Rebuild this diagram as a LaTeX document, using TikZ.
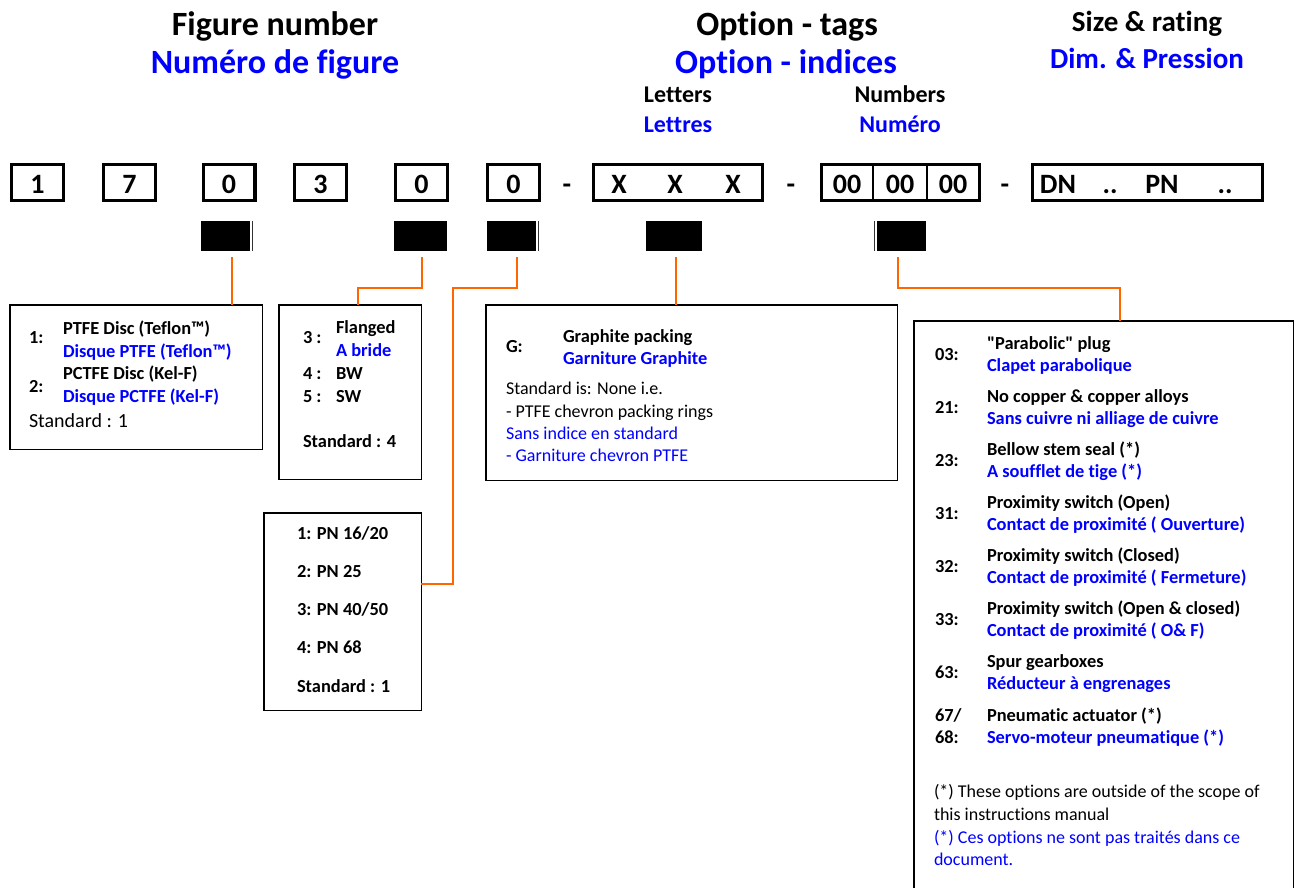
\documentclass[tikz,border=0pt]{standalone}
\usepackage{fontspec}
\setmainfont{Carlito}[Ligatures={TeX,NoCommon}]
\newfontfamily\qfont{Carlito}[Ligatures=NoCommon]
\usetikzlibrary{calc}
\definecolor{frblue}{RGB}{0,0,255}
\definecolor{conorange}{RGB}{255,102,0}
\newcommand\myfs[1]{\fontsize{#1}{#1}\selectfont}
\begin{document}
\begin{tikzpicture}[x=1pt,y=-1pt,
  every node/.style={inner sep=0pt,outer sep=0pt},
  digitbox/.style={draw,line width=3.3pt,minimum height=35.7pt},
  digit/.style={anchor=base,font=\myfs{28}\bfseries},
  blk/.style={fill=black,minimum height=30pt},
  thinbar/.style={line width=1pt,draw=black!80},
  infobox/.style={draw,line width=1.5pt},
  conn/.style={draw=conorange,line width=2pt},
  hd/.style={anchor=base,font=\myfs{34}\bfseries},
  hdb/.style={hd,text=frblue},
  hs/.style={anchor=base,font=\myfs{29}\bfseries},
  hsb/.style={hs,text=frblue},
  sub/.style={anchor=base,font=\myfs{24}\bfseries},
  subb/.style={sub,text=frblue},
  tk/.style={anchor=base west,font=\myfs{18.4}\bfseries},
  tkb/.style={tk,text=frblue},
  rg/.style={anchor=base west,font=\myfs{18}},
  rgb/.style={rg,text=frblue},
  rgl/.style={anchor=base west,font=\myfs{20}}
]
\useasboundingbox (0,0) rectangle (1300,887);
\clip (0,0) rectangle (1300,887);

% headers
\node[hd]  (h1) at (275,35) {Figure number};
\node[hdb] (h2) at (275,73) {Numéro de figure};
\node[hd]  (h3) at (787,35) {Option - tags};
\node[hdb] (h4) at (786,73) {Option - indices};
\node[hs]  (h5) at (1147,31) {Size \& rating};
\node[hsb] (h6) at (1147,68) {Dim. \& Pression};
\node[sub]  (h7) at (678,102) {Letters};
\node[subb] (h8) at (678,132) {Lettres};
\node[sub]  (h9) at (900,102) {Numbers};
\node[subb] (h10) at (900,132) {Numéro};

% top row boxes
\node[digitbox,minimum width=51.7pt] (bx1) at (37.5,182.5) {};
\node[digitbox,minimum width=51.7pt] (bx2) at (129.5,182.5) {};
\node[digitbox,minimum width=51.7pt] (bx3) at (229,182.5) {};
\node[digitbox,minimum width=51.7pt] (bx4) at (320.5,182.5) {};
\node[digitbox,minimum width=51.7pt] (bx5) at (421.5,182.5) {};
\node[digitbox,minimum width=51.7pt] (bx6) at (513.5,182.5) {};
\node[digitbox,minimum width=168.7pt] (bxX) at (678,182.5) {};
\node[digitbox,minimum width=157.7pt] (bx0) at (900.5,182.5) {};
\node[digitbox,minimum width=229.7pt] (bxD) at (1147.5,182.5) {};

\node[digit] (d1) at (37.5,193) {1};
\node[digit] (d2) at (129.5,193) {7};
\node[digit] (d3) at (229,193) {0};
\node[digit] (d4) at (320.5,193) {3};
\node[digit] (d5) at (421.5,193) {0};
\node[digit] (d6) at (513.5,193) {0};
\node[digit] (m1) at (567,193) {-};
\node[digit] (x1) at (619,193) {X};
\node[digit] (x2) at (675,193) {X};
\node[digit] (x3) at (733,193) {X};
\node[digit] (m2) at (791,193) {-};
\node[digit] (z1) at (847,193) {00};
\node[digit] (z2) at (900,193) {00};
\node[digit] (z3) at (953,193) {00};
\node[digit] (m3) at (1005,193) {-};
\node[digit] (p1) at (1058,193) {DN};
\node[digit] (p2) at (1110,193) {..};
\node[digit] (p3) at (1162,193) {PN};
\node[digit] (p4) at (1225,193) {..};

\coordinate (v1) at (873,0);
\coordinate (v2) at (927,0);
\draw[line width=1.5pt] (bx0.north -| v1) -- (bx0.south -| v1);
\draw[line width=1.5pt] (bx0.north -| v2) -- (bx0.south -| v2);

% black markers
\node[blk,minimum width=49pt] (sq1) at (225.5,236) {};
\node[blk,minimum width=53pt] (sq2) at (420.5,236) {};
\node[blk,minimum width=49pt] (sq3) at (511.5,236) {};
\node[blk,minimum width=56pt] (sqX) at (674,236) {};
\node[blk,minimum width=49pt] (sq0) at (901.5,236) {};
\draw[thinbar] ([xshift=2.5pt]sq1.north east) -- ([xshift=2.5pt]sq1.south east);
\draw[thinbar] ([xshift=2pt]sq3.north east) -- ([xshift=2pt]sq3.south east);
\draw[thinbar] ([xshift=-2.5pt]sq0.north west) -- ([xshift=-2.5pt]sq0.south west);

% info boxes
\node[infobox,minimum width=252.5pt,minimum height=144.5pt] (bA) at (136,377) {};
\node[infobox,minimum width=142.5pt,minimum height=174.5pt] (bB) at (350,392) {};
\node[infobox,minimum width=411.5pt,minimum height=175.5pt] (bG) at (691.5,392.5) {};
\node[infobox,minimum width=157.5pt,minimum height=197.5pt] (bP) at (342.5,611.5) {};
\node[infobox,minimum width=379.5pt,minimum height=574pt] (bR) at (1103.5,608) {};

% connectors
\coordinate (s1) at ([xshift=6.5pt,yshift=-6pt]sq1.south);
\coordinate (s2) at ([xshift=1.5pt,yshift=-6pt]sq2.south);
\coordinate (s3) at ([xshift=5.5pt,yshift=-6pt]sq3.south);
\coordinate (s4) at ([xshift=2pt,yshift=-6pt]sqX.south);
\coordinate (s5) at ([xshift=-3.5pt,yshift=-6pt]sq0.south);
\coordinate (k2) at (358,288);
\coordinate (k3) at (453,584);
\coordinate (k5) at (1120,288);
\draw[conn] (s1) -- (s1 |- bA.north);
\draw[conn] (s2) |- (k2) -- (k2 |- bB.north);
\draw[conn] (s3) |- (k3 |- k2) -- (k3) -- (k3 -| bP.east);
\draw[conn] (s4) -- (s4 |- bG.north);
\draw[conn] (s5) |- (k5) -- (k5 |- bR.north);

% box A
\node[tk]  (a1) at (29,343) {1:};
\node[tk]  (a2) at (63,334) {PTFE Disc (Teflon™)};
\node[tkb] (a3) at (63,357) {Disque PTFE (Teflon™)};
\node[tk]  (a4) at (29,392) {2:};
\node[tk]  (a5) at (63,379) {PCTFE Disc (Kel-F)};
\node[tkb] (a6) at (63,402) {Disque PCTFE (Kel-F)};
\node[rgl] (a7) at (29,427) {Standard : 1};

% box B
\node[tk]  (b1) at (303,343) {3 :};
\node[tk]  (b2) at (336,333) {Flanged};
\node[tkb] (b3) at (336,356) {A bride};
\node[tk]  (b4) at (303,379) {4 :};
\node[tk]  (b5) at (336,379) {BW};
\node[tk]  (b6) at (303,402) {5 :};
\node[tk]  (b7) at (336,402) {SW};
\node[tk]  (b8) at (303,447) {Standard : 4};

% box G
\node[tk]  (g1) at (506,352) {G:};
\node[tk]  (g2) at (563,342) {Graphite packing};
\node[tkb] (g3) at (563,364) {Garniture Graphite};
\node[rg]  (g4) at (506,394) {Standard is: None i.e.};
\node[rg]  (g5) at (506,417) {- PTFE chevron packing rings};
\node[rgb] (g6) at (506,439) {Sans indice en standard};
\node[rgb] (g7) at (506,461) {- Garniture chevron PTFE};

% box P
\node[tk] (q1) at (297,539) {1: PN 16/20};
\node[tk] (q2) at (297,577) {2: PN 25};
\node[tk] (q3) at (297,615) {3: PN 40/50};
\node[tk] (q4) at (297,653) {4: PN 68};
\node[tk] (q5) at (297,692) {Standard : 1};

% box R
\node[tk]  (r1l) at (935,360) {03:};
\node[tk]  (r1a) at (987,349) {\qfont "Parabolic" plug};
\node[tkb] (r1b) at (987,371.5) {Clapet parabolique};
\node[tk]  (r2l) at (935,413) {21:};
\node[tk]  (r2a) at (987,402) {No copper \& copper alloys};
\node[tkb] (r2b) at (987,424.5) {Sans cuivre ni alliage de cuivre};
\node[tk]  (r3l) at (935,466) {23:};
\node[tk]  (r3a) at (987,455) {Bellow stem seal (*)};
\node[tkb] (r3b) at (987,477.5) {A soufflet de tige (*)};
\node[tk]  (r4l) at (935,519) {31:};
\node[tk]  (r4a) at (987,508) {Proximity switch (Open)};
\node[tkb] (r4b) at (987,530.5) {Contact de proximité ( Ouverture)};
\node[tk]  (r5l) at (935,572) {32:};
\node[tk]  (r5a) at (987,561) {Proximity switch (Closed)};
\node[tkb] (r5b) at (987,583.5) {Contact de proximité ( Fermeture)};
\node[tk]  (r6l) at (935,625) {33:};
\node[tk]  (r6a) at (987,614) {Proximity switch (Open \& closed)};
\node[tkb] (r6b) at (987,636.5) {Contact de proximité ( O\& F)};
\node[tk]  (r7l) at (935,678) {63:};
\node[tk]  (r7a) at (987,667) {Spur gearboxes};
\node[tkb] (r7b) at (987,689.5) {Réducteur à engrenages};
\node[tk]  (r8l) at (935,721) {67/};
\node[tk]  (r8m) at (935,743.5) {68:};
\node[tk]  (r8a) at (987,721) {Pneumatic actuator (*)};
\node[tkb] (r8b) at (987,743.5) {Servo-moteur pneumatique (*)};
\node[rg]  (f1) at (934,797) {(*) These options are outside of the scope of};
\node[rg]  (f2) at (934,820) {this instructions manual};
\node[rgb] (f3) at (934,843) {(*) Ces options ne sont pas traités dans ce};
\node[rgb] (f4) at (934,865) {document.};
\end{tikzpicture}
\end{document}
